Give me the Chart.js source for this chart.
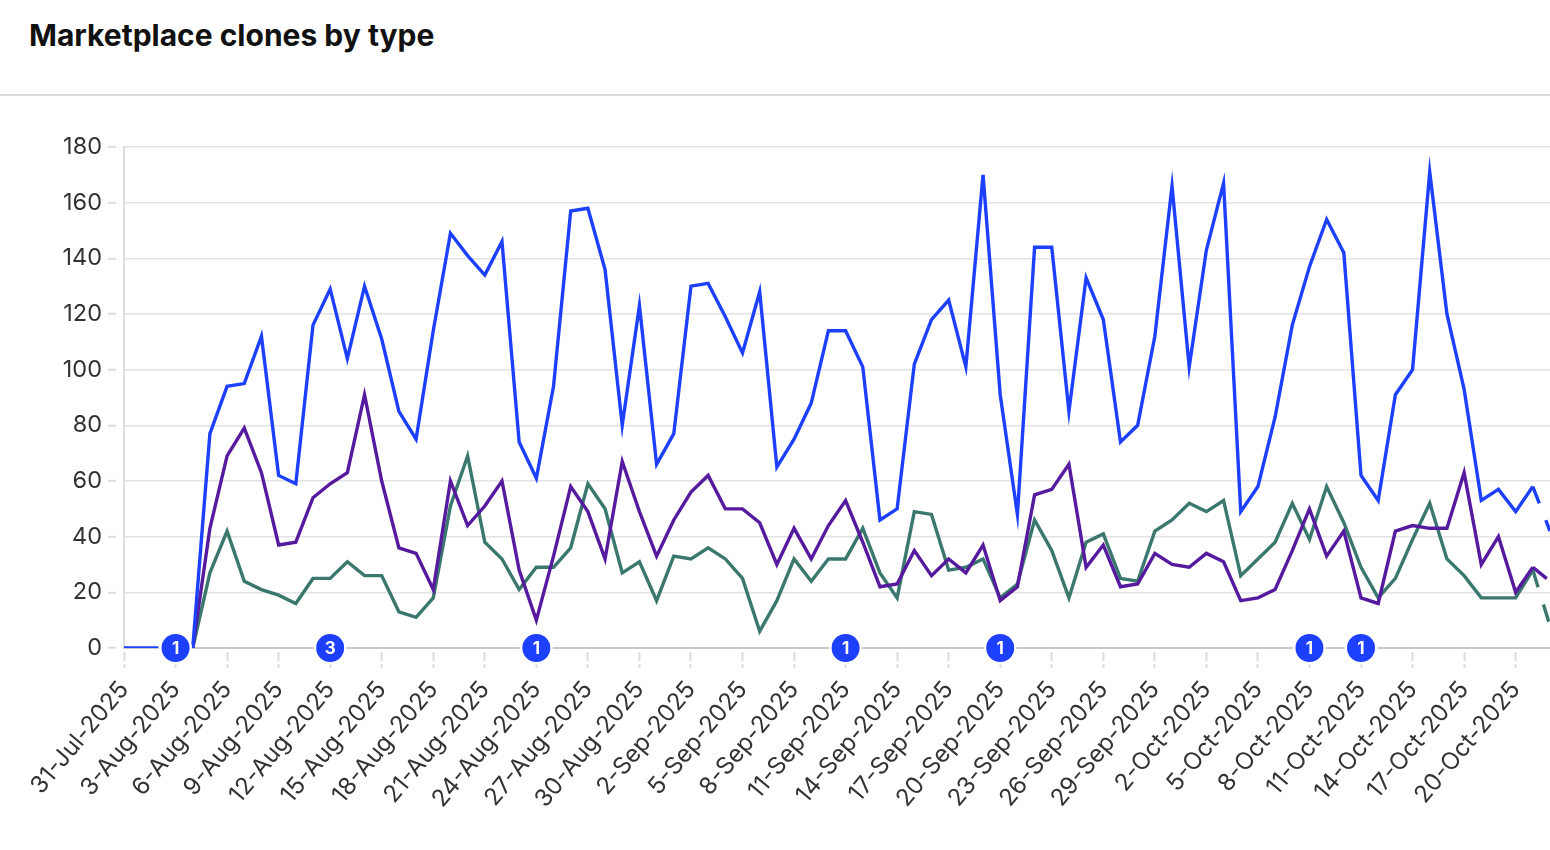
<!DOCTYPE html>
<html>
<head>
<meta charset="utf-8">
<title>Marketplace clones by type</title>
<script src="https://cdn.jsdelivr.net/npm/chart.js@4.4.1/dist/chart.umd.min.js"></script>
<style>
  html, body { margin: 0; padding: 0; background: #fff; overflow: hidden; }
  .header { position: absolute; left: 0; top: 0; width: 1550px; height: 96px; border-bottom: 2px solid #d9ddd9; box-sizing: border-box; }
  .title { position: absolute; left: 29px; top: 20px; margin: 0; font: 700 30px/30px Inter, sans-serif; color: #111; }
  .chartBox { position: absolute; left: 0; top: 97px; width: 1550px; height: 753px; }
</style>
</head>
<body>
<div class="header"><h1 class="title">Marketplace clones by type</h1></div>
<div class="chartBox"><canvas id="clonesChart"></canvas></div>
<script>
// days shown on the x axis
const dateLabels = [
  '31-Jul-2025', '1-Aug-2025', '2-Aug-2025', '3-Aug-2025', '4-Aug-2025', '5-Aug-2025', '6-Aug-2025',
  '7-Aug-2025', '8-Aug-2025', '9-Aug-2025', '10-Aug-2025', '11-Aug-2025', '12-Aug-2025', '13-Aug-2025',
  '14-Aug-2025', '15-Aug-2025', '16-Aug-2025', '17-Aug-2025', '18-Aug-2025', '19-Aug-2025', '20-Aug-2025',
  '21-Aug-2025', '22-Aug-2025', '23-Aug-2025', '24-Aug-2025', '25-Aug-2025', '26-Aug-2025', '27-Aug-2025',
  '28-Aug-2025', '29-Aug-2025', '30-Aug-2025', '31-Aug-2025', '1-Sep-2025', '2-Sep-2025', '3-Sep-2025',
  '4-Sep-2025', '5-Sep-2025', '6-Sep-2025', '7-Sep-2025', '8-Sep-2025', '9-Sep-2025', '10-Sep-2025',
  '11-Sep-2025', '12-Sep-2025', '13-Sep-2025', '14-Sep-2025', '15-Sep-2025', '16-Sep-2025', '17-Sep-2025',
  '18-Sep-2025', '19-Sep-2025', '20-Sep-2025', '21-Sep-2025', '22-Sep-2025', '23-Sep-2025', '24-Sep-2025',
  '25-Sep-2025', '26-Sep-2025', '27-Sep-2025', '28-Sep-2025', '29-Sep-2025', '30-Sep-2025', '1-Oct-2025',
  '2-Oct-2025', '3-Oct-2025', '4-Oct-2025', '5-Oct-2025', '6-Oct-2025', '7-Oct-2025', '8-Oct-2025',
  '9-Oct-2025', '10-Oct-2025', '11-Oct-2025', '12-Oct-2025', '13-Oct-2025', '14-Oct-2025', '15-Oct-2025',
  '16-Oct-2025', '17-Oct-2025', '18-Oct-2025', '19-Oct-2025', '20-Oct-2025', '21-Oct-2025', '22-Oct-2025',
];

// clones per day, one array per type
const blueClones = [
  0, 0, 0, null, 0, 77, 94, 95, 112, 62, 59, 116, 129, 104, 130, 111, 85, 75, 114, 149, 141,
  134, 146, 74, 61, 94, 157, 158, 136, 80, 123, 66, 77, 130, 131, 119, 106, 128, 65, 75, 88,
  114, 114, 101, 46, 50, 102, 118, 125, 101, 170, 91, 48, 144, 144, 85, 133, 118, 74, 80, 112,
  166, 101, 143, 167, 49, 58, 83, 116, 137, 154, 142, 62, 53, 91, 100, 171, 120, 93, 53, 57,
  49, 58, 42,
];
const purpleClones = [
  null, null, null, null, 0, 43, 69, 79, 63, 37, 38, 54, 59, 63, 91, 60, 36, 34, 21, 60, 44,
  51, 60, 28, 10, 33, 58, 49, 32, 67, 49, 33, 46, 56, 62, 50, 50, 45, 30, 43, 32,
  44, 53, 38, 22, 23, 35, 26, 32, 27, 37, 17, 22, 55, 57, 66, 29, 37, 22, 23, 34,
  30, 29, 34, 31, 17, 18, 21, 35, 50, 33, 42, 18, 16, 42, 44, 43, 43, 63, 30, 40,
  20, 29, 24,
];
const tealClones = [
  null, null, null, null, 0, 27, 42, 24, 21, 19, 16, 25, 25, 31, 26, 26, 13, 11, 18, 51, 69,
  38, 32, 21, 29, 29, 36, 59, 50, 27, 31, 17, 33, 32, 36, 32, 25, 6, 17, 32, 24,
  32, 32, 43, 27, 18, 49, 48, 28, 29, 32, 18, 23, 46, 35, 18, 38, 41, 25, 24, 42,
  46, 52, 49, 53, 26, 32, 38, 52, 39, 58, 45, 29, 18, 25, 39, 52, 32, 26, 18, 18,
  18, 28, 8,
];

// annotation markers sitting on the zero line
const markerDates = ['3-Aug-2025', '12-Aug-2025', '24-Aug-2025', '11-Sep-2025', '20-Sep-2025', '8-Oct-2025', '11-Oct-2025'];
const markerCounts = [1, 3, 1, 1, 1, 1, 1];

const BLUE = '#1d40ff';
const PURPLE = '#561a9e';
const TEAL = '#3a786e';
const FONT = 'Inter, "Noto Sans", sans-serif';

// last day is still partial -> dashed
let lastIdx = dateLabels.length - 1;
let partialDash = (ctx) => (ctx.p1DataIndex === lastIdx ? [18, 18] : undefined);

let makeLine = (label, data, color) => ({
	label,
	data,
	borderColor: color,
	backgroundColor: color,
	borderWidth: 3.4,
	pointRadius: 0,
	pointHoverRadius: 0,
	tension: 0,
	spanGaps: false,
	segment: { borderDash: partialDash },
});

// numbered circles on the x axis
let dateMarkers = {
	id: 'dateMarkers',
	afterDatasetsDraw (chart) {
		let { ctx, scales: { x, y } } = chart;
		let py = y.getPixelForValue(0);
		ctx.save();
		markerDates.forEach((d, i) => {
			let px = x.getPixelForValue(dateLabels.indexOf(d));
			ctx.beginPath();
			ctx.arc(px, py, 16.5, 0, Math.PI * 2);
			ctx.fillStyle = '#fff';
			ctx.fill();
			ctx.beginPath();
			ctx.arc(px, py, 14, 0, Math.PI * 2);
			ctx.fillStyle = BLUE;
			ctx.fill();
			ctx.fillStyle = '#fff';
			ctx.font = '700 17px ' + FONT;
			ctx.textAlign = 'center';
			ctx.textBaseline = 'middle';
			ctx.fillText(String(markerCounts[i]), px, py + 1);
		});
		ctx.restore();
	},
};

new Chart(document.getElementById('clonesChart'), {
	type: 'line',
	data: {
		labels: dateLabels,
		datasets: [
			makeLine('Type A', blueClones, BLUE),
			makeLine('Type B', purpleClones, PURPLE),
			makeLine('Type C', tealClones, TEAL),
		],
	},
	options: {
		responsive: true,
		maintainAspectRatio: false,
		animation: false,
		layout: { padding: { top: 50, left: 0, right: 0, bottom: 0 } },
		plugins: {
			legend: { display: false },
			tooltip: { enabled: false },
		},
		scales: {
			x: {
				grid: {
					drawOnChartArea: false,
					tickLength: 20,
					tickWidth: 2,
					tickColor: '#dcdce2',
					tickBorderDash: [0, 3, 9, 3, 8, 100],
				},
				border: { color: '#c9c9cd', width: 2 },
				ticks: {
					autoSkip: false,
					minRotation: 50,
					maxRotation: 50,
					padding: 8,
					color: '#333',
					font: { family: FONT, size: 24 },
				},
				// one label every third day
				afterBuildTicks: (scale) => { scale.ticks = scale.ticks.filter((t, i) => i % 3 === 0); },
				afterFit: (scale) => { scale.height = 202; scale.paddingLeft = 0; scale.paddingRight = 0; },
			},
			y: {
				min: 0,
				max: 180,
				ticks: {
					stepSize: 20,
					padding: 6,
					color: '#333',
					font: { family: FONT, size: 23.5 },
				},
				grid: {
					color: (c) => (c.tick && c.tick.value === 0 ? 'rgba(0,0,0,0)' : '#e2e2e8'),
					lineWidth: 1.5,
					tickLength: 16,
					tickWidth: 2,
					tickColor: '#dcdce2',
					tickBorderDash: [8, 100],
				},
				border: { color: '#dcdce2', width: 2 },
				afterFit: (scale) => { scale.width = 124; },
			},
		},
	},
	plugins: [ dateMarkers ],
});
</script>
</body>
</html>
